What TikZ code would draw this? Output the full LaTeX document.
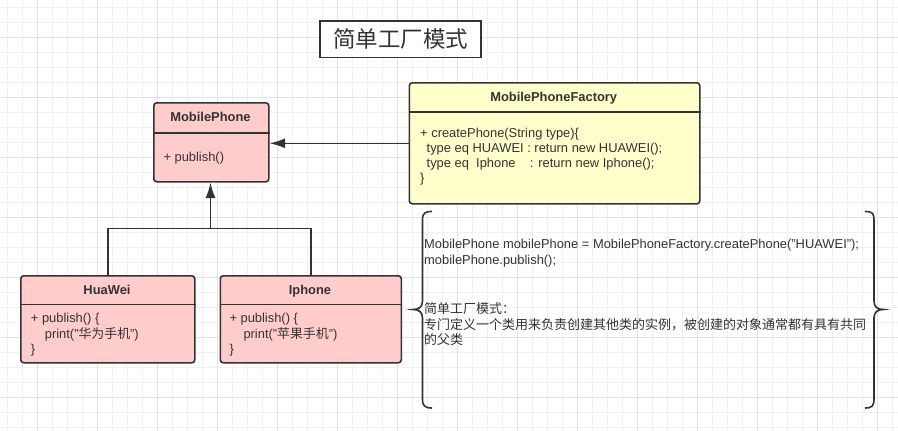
\documentclass[tikz,border=0pt]{standalone}
\usepackage{fontspec}
\setmainfont{Liberation Sans}
\newfontfamily\cjk{Noto Sans CJK SC}
\usetikzlibrary{arrows.meta}
\definecolor{ink}{HTML}{333333}
\definecolor{pinkfill}{HTML}{FFCCCC}
\definecolor{yellowfill}{HTML}{FFFFCC}
\definecolor{gridminor}{HTML}{F0F0F0}
\definecolor{gridmajor}{HTML}{E2E2E2}
\tikzset{
  classbox/.style={draw=ink, line width=1.6pt, rounded corners=3pt, anchor=north west, inner sep=0pt},
  classname/.style={anchor=base, font=\fontsize{12.9}{15.5}\selectfont\bfseries, text=ink, inner sep=0pt},
  classbody/.style={anchor=base west, align=left, font=\fontsize{12.9}{15.7}\selectfont, text=ink, inner sep=0pt},
  divider/.style={draw=ink, line width=1.6pt},
  link/.style={draw=ink, line width=1.5pt},
  inherit/.style={link, -{Latex[length=15.5pt,width=10pt]}},
  bracket/.style={draw=ink, line width=1.6pt},
}
\begin{document}
\begin{tikzpicture}[x=1pt,y=-1pt]
        %% NOTE: canvas and grid
        \useasboundingbox (0,0) rectangle (898,431);
        \fill[white] (0,0) rectangle (898,431);
        \foreach \g in {7.5,22.5,...,897.5} {\draw[gridminor, line width=0.8pt] (\g,0) -- (\g,431);}
        \foreach \g in {7.5,22.5,...,430} {\draw[gridminor, line width=0.8pt] (0,\g) -- (898,\g);}
        \foreach \g in {37.5,97.5,...,897.5} {\draw[gridmajor, line width=0.8pt] (\g,0) -- (\g,431);}
        \foreach \g in {37.5,97.5,...,430} {\draw[gridmajor, line width=0.8pt] (0,\g) -- (898,\g);}
        %% title
        \node[draw=ink, line width=1.6pt, fill=white, minimum width=161pt, minimum height=36.5pt, inner sep=0pt,
              font=\fontsize{22.5}{24}\selectfont\cjk, text=ink] (title) at (400.5,39.3) {简单工厂模式};
        %% classes
        \node[classbox, fill=pinkfill, minimum width=115pt, minimum height=79pt] (phone) at (153,102) {};
        \node[classbox, fill=yellowfill, minimum width=290.5pt, minimum height=121pt] (factory) at (408.5,82) {};
        \node[classbox, fill=pinkfill, minimum width=174pt, minimum height=87pt] (huawei) at (20,275) {};
        \node[classbox, fill=pinkfill, minimum width=181pt, minimum height=87pt] (iphone) at (219.5,275) {};
        \draw[divider] (phone.west |- 0,133) -- (phone.east |- 0,133);
        \draw[divider] (factory.west |- 0,112) -- (factory.east |- 0,112);
        \draw[divider] (huawei.west |- 0,304.5) -- (huawei.east |- 0,304.5);
        \draw[divider] (iphone.west |- 0,304.5) -- (iphone.east |- 0,304.5);
        %% class texts (multi-line: base = last line)
        \node[classname] (phoneName) at (210.5,121.5) {MobilePhone};
        \node[classbody] (phoneOps) at (163.3,161.2) {+ publish()};
        \node[classname] (factoryName) at (553.7,101.5) {MobilePhoneFactory};
        \node[classbody, font=\fontsize{12.9}{15}\selectfont] (factoryOps) at (420,182.8) {+ createPhone(String type)\{\\
          \hspace*{6.5pt}type eq HUAWEI : return new HUAWEI();\\
          \hspace*{6.5pt}type eq\ \ Iphone\ \ \ \ : return new Iphone();\\
          \}};
        \node[classname] (huaweiName) at (107,294.5) {HuaWei};
        \node[classbody, font=\fontsize{12.9}{15.8}\selectfont] (huaweiOps) at (30.7,353.8) {+ publish() \{\\
          \hspace*{14pt}print("{\cjk 华为手机}")\\
          \}};
        \node[classname] (iphoneName) at (310,294.5) {Iphone};
        \node[classbody, font=\fontsize{12.9}{15.8}\selectfont] (iphoneOps) at (229.3,353.8) {+ publish() \{\\
          \hspace*{14pt}print("{\cjk 苹果手机}")\\
          \}};
        %% connectors
        \draw[inherit] (factory.west) -- (factory.west -| phone.east);
        \coordinate (joint) at (210.5,228.3);
        \draw[inherit] (joint) -- (joint |- phone.south);
        \draw[link] (huawei.north) |- (joint) -| (iphone.north);
        %% note with brackets
        \draw[bracket] (432,211.5) .. controls (425,211.5) and (422.5,213) .. (422.5,220) -- (422.5,301)
          .. controls (422.5,307) and (419,309.5) .. (413,309.5)
          .. controls (419,309.5) and (422.5,312) .. (422.5,318) -- (422.5,399)
          .. controls (422.5,406) and (425,408) .. (432,408);
        \draw[bracket] (865,211.5) .. controls (872,211.5) and (874,213) .. (874,220) -- (874,301)
          .. controls (874,307) and (877.5,309.5) .. (883.5,309.5)
          .. controls (877.5,309.5) and (874,312) .. (874,318) -- (874,399)
          .. controls (874,406) and (872,408) .. (865,408);
        \node[classbody] (usage) at (424,264.5) {MobilePhone mobilePhone = MobilePhoneFactory.createPhone("HUAWEI");\\
          mobilePhone.publish();};
        \node[classbody, font=\fontsize{13}{15.5}\selectfont\cjk] (summary) at (424,344.9) {简单工厂模式：\\
          专门定义一个类用来负责创建其他类的实例，被创建的对象通常都有具有共同\\
          的父类};
\end{tikzpicture}
\end{document}
